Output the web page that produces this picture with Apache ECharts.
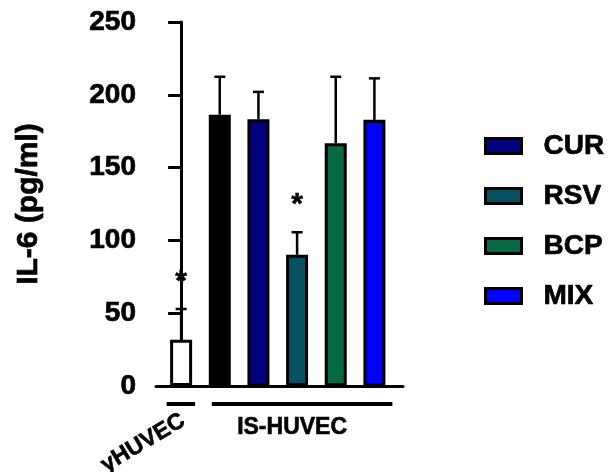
<!DOCTYPE html>
<html>
<head>
<meta charset="utf-8">
<script src="https://cdn.jsdelivr.net/npm/echarts@6/dist/echarts.min.js"></script>
<style>
  html, body { margin: 0; padding: 0; background: #fff; }
  #chart { width: 609px; height: 472px; }
</style>
</head>
<body>
<div id="chart"></div>
<script>
// IL-6 secretion per condition (mean ± SD, pg/ml)
const barNames = ['yHUVEC', 'IS-HUVEC', 'CUR', 'RSV', 'BCP', 'MIX'];
const meanValues = [31.7, 186.3, 183.2, 90.1, 166.8, 182.8];
const sdValues = [21.2, 26.1, 18.8, 15.5, 45.6, 28.5];
const barColors = ['#ffffff', '#000000', '#000080', '#055060', '#066944', '#0000ff'];
const legendNames = ['CUR', 'RSV', 'BCP', 'MIX'];
const yTicks = [0, 50, 100, 150, 200, 250];
// cell-type groups under the x axis (bar index ranges)
const groupNames = ['yHUVEC', 'IS-HUVEC'];
const groupFirst = [0, 1];
const groupLast = [0, 5];
// significance markers: bar index and height (pg/ml)
const starIndex = [0, 3];
const starValue = [75, 128];

const FONT = '"Liberation Sans", Arial, sans-serif';
const BAR_W = 22;
// a thin outline makes the bold lettering a little heavier
const heavy = { textBorderColor: '#000', textBorderWidth: 0.7 };

const chart = echarts.init(document.getElementById('chart'), null, { renderer: 'canvas' });

const barSeries = meanValues.map((v, i) => ({
  type: 'bar',
  name: barNames[i],
  data: [[i, v]],
  barWidth: BAR_W,
  barGap: '-100%',
  itemStyle: { color: barColors[i], borderColor: '#000', borderWidth: 3 },
  emphasis: { disabled: true },
  z: 2
}));

const errorSeries = {
  type: 'custom',
  name: 'sd',
  data: meanValues.map((v, i) => [i, v, v + sdValues[i]]),
  renderItem: (params, api) => {
    const base = api.coord([api.value(0), api.value(1)]);
    const top = api.coord([api.value(0), api.value(2)]);
    const style = { stroke: '#000', lineWidth: 2.5 };
    return {
      type: 'group',
      children: [
        { type: 'line', shape: { x1: base[0], y1: base[1], x2: top[0], y2: top[1] }, style },
        { type: 'line', shape: { x1: top[0] - 5.5, y1: top[1], x2: top[0] + 5.5, y2: top[1] }, style }
      ]
    };
  },
  z: 3
};

const starSeries = {
  type: 'custom',
  name: 'sig',
  data: starIndex.map((idx, k) => [idx, starValue[k]]),
  renderItem: (params, api) => {
    const p = api.coord([api.value(0), api.value(1)]);
    // the asterisk glyph sits high in its em box, so drop it to centre it on the value
    return {
      type: 'text',
      x: p[0], y: p[1] + 5,
      style: {
        text: '*', fill: '#000',
        font: 'bold 30px ' + FONT,
        align: 'center', verticalAlign: 'middle',
        stroke: '#000', lineWidth: 0.5
      }
    };
  },
  z: 4
};

// group brackets and their labels below the axis
const bracketPad = [[14.5, 14], [8, 18]];
const groupSeries = {
  type: 'custom',
  name: 'groups',
  data: groupNames.map((n, g) => [groupFirst[g], groupLast[g], g]),
  clip: false,
  renderItem: (params, api) => {
    const g = api.value(2);
    const a = api.coord([api.value(0), 0]);
    const b = api.coord([api.value(1), 0]);
    const y0 = a[1];
    const x1 = a[0] - bracketPad[g][0];
    const x2 = b[0] + bracketPad[g][1];
    const textStroke = { stroke: '#000', lineWidth: 0.6 };
    const children = [
      { type: 'line', shape: { x1, y1: y0 + 18, x2, y2: y0 + 18 }, style: { stroke: '#000', lineWidth: 4 } }
    ];
    if (g === 0) {
      children.push({
        type: 'text', x: a[0] - 38, y: y0 + 57, rotation: 0.54,
        style: Object.assign({ text: groupNames[g], font: 'bold 23px ' + FONT, fill: '#000', align: 'center', verticalAlign: 'middle' }, textStroke)
      });
    } else {
      children.push({
        type: 'text', x: (a[0] + b[0]) / 2 - 5, y: y0 + 42,
        style: Object.assign({ text: groupNames[g], font: 'bold 23px ' + FONT, fill: '#000', align: 'center', verticalAlign: 'middle' }, textStroke)
      });
    }
    return { type: 'group', children };
  },
  z: 5
};

chart.setOption({
  animation: false,
  backgroundColor: '#fff',
  grid: { left: 156, top: 22, right: 206, bottom: 86, containLabel: false },
  legend: {
    data: legendNames,
    orient: 'vertical',
    left: 484,
    top: 131,
    padding: 0,
    icon: 'rect',
    itemWidth: 36,
    itemHeight: 15,
    itemGap: 20,
    itemStyle: { borderColor: '#000', borderWidth: 3 },
    textStyle: Object.assign({ fontFamily: FONT, fontWeight: 'bold', fontSize: 28, color: '#000', lineHeight: 30, padding: [0, 0, 0, 17] }, heavy),
    selectedMode: false
  },
  xAxis: {
    type: 'value',
    min: -0.65,
    max: 5.74,
    axisLine: { show: true, onZero: false, lineStyle: { color: '#000', width: 3 } },
    axisTick: { show: false },
    axisLabel: { show: false },
    splitLine: { show: false }
  },
  yAxis: {
    type: 'value',
    min: yTicks[0],
    max: yTicks[yTicks.length - 1],
    interval: yTicks[1] - yTicks[0],
    name: 'IL-6 (pg/ml)',
    nameLocation: 'middle',
    nameGap: 112,
    nameTextStyle: Object.assign({ fontFamily: FONT, fontWeight: 'bold', fontSize: 30, color: '#000' }, heavy),
    axisLine: { show: true, lineStyle: { color: '#000', width: 3 } },
    axisTick: { show: true, length: 13, lineStyle: { color: '#000', width: 3 } },
    axisLabel: Object.assign({ fontFamily: FONT, fontWeight: 'bold', fontSize: 28, color: '#000', margin: 20 }, heavy),
    splitLine: { show: false }
  },
  series: [...barSeries, errorSeries, starSeries, groupSeries]
});
</script>
</body>
</html>
